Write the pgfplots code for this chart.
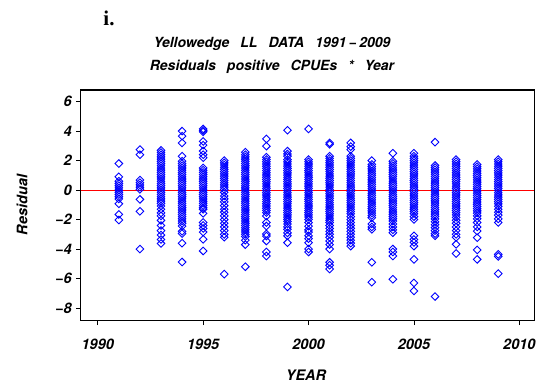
\documentclass[border=0pt]{standalone}
\usepackage{fontspec}
\setmainfont{TeX Gyre Heros}
\newfontfamily\serifbf{Liberation Serif}
\usepackage{pgfplots}
\pgfplotsset{compat=1.18}
\definecolor{sasblue}{RGB}{0,0,255}
\definecolor{sasred}{RGB}{255,0,0}
\newcommand{\wg}{\hspace*{11pt}}
\begin{document}
\begin{tikzpicture}
\useasboundingbox (-80.7pt,-69.3pt) rectangle (457.3pt,320.7pt);
\begin{axis}[
  at={(0pt,0pt)}, anchor=south west,
  scale only axis, width=453.6pt, height=230.7pt,
  xmin=1989.19, xmax=2010.71, ymin=-8.86, ymax=6.79,
  xtick={1990,1995,2000,2005,2010},
  ytick={-8,-6,-4,-2,0,2,4,6},
  xticklabels={1990,1995,2000,2005,2010},
  yticklabels={−8,−6,−4,−2,0,2,4,6},
  xtick pos=left, ytick pos=left,
  tick align=outside, major tick length=4.5pt,
  tick style={black, line width=0.8pt},
  axis line style={line width=1.3pt},
  ticklabel style={font=\fontsize{14.5}{14.5}\selectfont\bfseries\itshape},
  xticklabel style={yshift=-10pt},
  yticklabel style={xshift=-1pt},
  /pgf/number format/assume math mode=true,
  clip=true,
]
\addplot[sasred, line width=0.8pt] coordinates {(1989.19,0) (2010.71,0)};
\addplot[only marks, mark=square, mark size=2.7pt, mark options={rotate=45, sasblue, line width=0.9pt}] coordinates {
(1991,1.8) (1991,0.9) (1991,0.6) (1991,0.45) (1991,0.3) (1991,0.15) (1991,0.0) (1991,-0.15) (1991,-0.3) (1991,-0.45) (1991,-0.6) (1991,-0.93) (1991,-1.65) (1991,-2.03)
(1992,2.75) (1992,2.4) (1992,0.68) (1992,0.5) (1992,0.35) (1992,0.2) (1992,0.05) (1992,-0.63) (1992,-1.44) (1992,-4.0)
(1993,2.69) (1993,2.55) (1993,2.4) (1993,2.25) (1993,2.1) (1993,1.95) (1993,1.8) (1993,1.65) (1993,1.5) (1993,1.35) (1993,1.2) (1993,1.05) (1993,0.9) (1993,0.75) (1993,0.6) (1993,0.45) (1993,0.3) (1993,0.15) (1993,0.0) (1993,-0.15) (1993,-0.3) (1993,-0.45) (1993,-0.6) (1993,-0.75) (1993,-0.9) (1993,-1.08) (1993,-1.3) (1993,-1.55) (1993,-1.75) (1993,-2.05) (1993,-2.4) (1993,-2.75) (1993,-3.05) (1993,-3.35) (1993,-3.62)
(1994,4.0) (1994,3.66) (1994,3.2) (1994,2.3) (1994,1.96) (1994,1.8) (1994,1.65) (1994,1.5) (1994,1.35) (1994,1.2) (1994,1.05) (1994,0.9) (1994,0.75) (1994,0.6) (1994,0.45) (1994,0.3) (1994,0.15) (1994,0.0) (1994,-0.15) (1994,-0.3) (1994,-0.45) (1994,-0.6) (1994,-0.75) (1994,-0.9) (1994,-1.05) (1994,-1.2) (1994,-1.35) (1994,-1.5) (1994,-1.65) (1994,-1.8) (1994,-1.95) (1994,-2.1) (1994,-2.25) (1994,-2.44) (1994,-2.8) (1994,-2.95) (1994,-3.6) (1994,-4.88)
(1995,4.15) (1995,4.05) (1995,3.95) (1995,3.3) (1995,3.05) (1995,2.65) (1995,2.4) (1995,2.2) (1995,1.5) (1995,1.35) (1995,1.2) (1995,1.05) (1995,0.9) (1995,0.75) (1995,0.6) (1995,0.45) (1995,0.3) (1995,0.15) (1995,0.0) (1995,-0.15) (1995,-0.3) (1995,-0.45) (1995,-0.6) (1995,-0.75) (1995,-0.9) (1995,-1.05) (1995,-1.2) (1995,-1.3) (1995,-1.58) (1995,-2.2) (1995,-2.4) (1995,-2.6) (1995,-2.85) (1995,-3.34) (1995,-4.13)
(1996,2.0) (1996,1.85) (1996,1.7) (1996,1.55) (1996,1.4) (1996,1.25) (1996,1.1) (1996,0.95) (1996,0.8) (1996,0.65) (1996,0.5) (1996,0.35) (1996,0.2) (1996,0.05) (1996,-0.15) (1996,-0.4) (1996,-0.6) (1996,-0.8) (1996,-1.05) (1996,-1.3) (1996,-1.5) (1996,-1.75) (1996,-2.0) (1996,-2.25) (1996,-2.5) (1996,-2.75) (1996,-3.0) (1996,-3.2) (1996,-5.7)
(1997,2.57) (1997,2.4) (1997,2.25) (1997,2.1) (1997,1.95) (1997,1.8) (1997,1.65) (1997,1.5) (1997,1.35) (1997,1.2) (1997,1.05) (1997,0.9) (1997,0.75) (1997,0.6) (1997,0.45) (1997,0.3) (1997,0.15) (1997,0.0) (1997,-0.15) (1997,-0.3) (1997,-0.45) (1997,-0.6) (1997,-0.75) (1997,-0.9) (1997,-1.05) (1997,-1.2) (1997,-1.35) (1997,-1.5) (1997,-1.65) (1997,-1.8) (1997,-1.95) (1997,-2.1) (1997,-2.25) (1997,-2.4) (1997,-2.55) (1997,-2.7) (1997,-2.85) (1997,-3.0) (1997,-3.15) (1997,-3.4) (1997,-3.7) (1997,-5.2)
(1998,3.47) (1998,2.98) (1998,2.23) (1998,2.07) (1998,1.92) (1998,1.77) (1998,1.62) (1998,1.47) (1998,1.32) (1998,1.17) (1998,1.02) (1998,0.87) (1998,0.72) (1998,0.57) (1998,0.42) (1998,0.27) (1998,0.12) (1998,-0.03) (1998,-0.18) (1998,-0.33) (1998,-0.48) (1998,-0.63) (1998,-0.78) (1998,-0.93) (1998,-1.08) (1998,-1.23) (1998,-1.38) (1998,-1.53) (1998,-1.76) (1998,-2.2) (1998,-2.44) (1998,-2.98) (1998,-3.12) (1998,-3.45) (1998,-4.2) (1998,-4.47)
(1999,4.06) (1999,2.64) (1999,2.45) (1999,2.3) (1999,2.07) (1999,1.92) (1999,1.77) (1999,1.62) (1999,1.47) (1999,1.32) (1999,1.17) (1999,1.02) (1999,0.87) (1999,0.72) (1999,0.57) (1999,0.42) (1999,0.27) (1999,0.12) (1999,-0.03) (1999,-0.18) (1999,-0.33) (1999,-0.48) (1999,-0.63) (1999,-0.78) (1999,-0.93) (1999,-1.08) (1999,-1.23) (1999,-1.38) (1999,-1.53) (1999,-1.68) (1999,-1.83) (1999,-1.98) (1999,-2.13) (1999,-2.3) (1999,-2.5) (1999,-2.66) (1999,-2.9) (1999,-3.1) (1999,-3.57) (1999,-6.57)
(2000,4.15) (2000,2.07) (2000,1.92) (2000,1.77) (2000,1.62) (2000,1.47) (2000,1.32) (2000,1.17) (2000,1.02) (2000,0.87) (2000,0.72) (2000,0.57) (2000,0.42) (2000,0.27) (2000,0.12) (2000,-0.03) (2000,-0.18) (2000,-0.33) (2000,-0.48) (2000,-0.63) (2000,-0.78) (2000,-0.93) (2000,-1.08) (2000,-1.23) (2000,-1.38) (2000,-1.53) (2000,-1.68) (2000,-1.83) (2000,-1.99) (2000,-2.2) (2000,-2.45) (2000,-2.7) (2000,-2.85) (2000,-3.1) (2000,-3.3) (2000,-3.57) (2000,-4.0) (2000,-4.2)
(2001,3.2) (2001,3.1) (2001,2.3) (2001,2.15) (2001,2.0) (2001,1.85) (2001,1.7) (2001,1.55) (2001,1.4) (2001,1.25) (2001,1.1) (2001,0.95) (2001,0.8) (2001,0.65) (2001,0.5) (2001,0.35) (2001,0.2) (2001,0.05) (2001,-0.1) (2001,-0.25) (2001,-0.4) (2001,-0.55) (2001,-0.7) (2001,-0.85) (2001,-1.0) (2001,-1.15) (2001,-1.3) (2001,-1.45) (2001,-1.6) (2001,-1.75) (2001,-1.9) (2001,-2.05) (2001,-2.2) (2001,-2.4) (2001,-2.6) (2001,-2.8) (2001,-3.0) (2001,-3.2) (2001,-3.45) (2001,-3.7) (2001,-4.0) (2001,-4.9) (2001,-5.1) (2001,-5.35)
(2002,3.2) (2002,2.95) (2002,2.75) (2002,2.3) (2002,2.15) (2002,2.0) (2002,1.85) (2002,1.7) (2002,1.55) (2002,1.4) (2002,1.25) (2002,1.1) (2002,0.95) (2002,0.8) (2002,0.65) (2002,0.5) (2002,0.35) (2002,0.2) (2002,0.05) (2002,-0.1) (2002,-0.25) (2002,-0.4) (2002,-0.55) (2002,-0.7) (2002,-0.85) (2002,-1.0) (2002,-1.15) (2002,-1.3) (2002,-1.45) (2002,-1.6) (2002,-1.8) (2002,-2.0) (2002,-2.2) (2002,-2.4) (2002,-2.6) (2002,-2.8) (2002,-3.0) (2002,-3.2) (2002,-3.4) (2002,-3.6) (2002,-3.8)
(2003,2.0) (2003,1.74) (2003,1.59) (2003,1.44) (2003,1.29) (2003,1.14) (2003,0.99) (2003,0.84) (2003,0.69) (2003,0.54) (2003,0.39) (2003,0.24) (2003,0.09) (2003,-0.06) (2003,-0.21) (2003,-0.36) (2003,-0.51) (2003,-0.66) (2003,-0.81) (2003,-0.96) (2003,-1.11) (2003,-1.26) (2003,-1.41) (2003,-1.56) (2003,-1.72) (2003,-1.87) (2003,-2.3) (2003,-2.5) (2003,-2.66) (2003,-4.9) (2003,-6.25)
(2004,2.5) (2004,1.96) (2004,1.81) (2004,1.66) (2004,1.51) (2004,1.36) (2004,1.21) (2004,1.06) (2004,0.91) (2004,0.76) (2004,0.61) (2004,0.46) (2004,0.31) (2004,0.16) (2004,0.01) (2004,-0.14) (2004,-0.29) (2004,-0.44) (2004,-0.59) (2004,-0.74) (2004,-0.89) (2004,-1.04) (2004,-1.19) (2004,-1.34) (2004,-1.49) (2004,-1.64) (2004,-1.79) (2004,-1.94) (2004,-2.1) (2004,-2.3) (2004,-2.5) (2004,-2.7) (2004,-2.89) (2004,-4.0) (2004,-4.2) (2004,-4.47) (2004,-6.05)
(2005,2.5) (2005,2.3) (2005,2.15) (2005,2.0) (2005,1.85) (2005,1.7) (2005,1.55) (2005,1.4) (2005,1.25) (2005,1.1) (2005,0.95) (2005,0.8) (2005,0.65) (2005,0.5) (2005,0.35) (2005,0.2) (2005,0.05) (2005,-0.1) (2005,-0.25) (2005,-0.4) (2005,-0.55) (2005,-0.7) (2005,-0.85) (2005,-1.0) (2005,-1.15) (2005,-1.3) (2005,-1.45) (2005,-1.6) (2005,-1.8) (2005,-1.99) (2005,-3.1) (2005,-3.35) (2005,-3.55) (2005,-3.8) (2005,-4.7) (2005,-6.3) (2005,-6.84)
(2006,3.25) (2006,1.67) (2006,1.52) (2006,1.37) (2006,1.22) (2006,1.07) (2006,0.92) (2006,0.77) (2006,0.62) (2006,0.47) (2006,0.32) (2006,0.17) (2006,0.02) (2006,-0.13) (2006,-0.28) (2006,-0.43) (2006,-0.58) (2006,-0.73) (2006,-0.88) (2006,-1.03) (2006,-1.18) (2006,-1.33) (2006,-1.48) (2006,-1.63) (2006,-1.78) (2006,-1.95) (2006,-2.15) (2006,-2.35) (2006,-2.55) (2006,-2.75) (2006,-2.95) (2006,-3.1) (2006,-7.22)
(2007,2.07) (2007,1.92) (2007,1.77) (2007,1.62) (2007,1.47) (2007,1.32) (2007,1.17) (2007,1.02) (2007,0.87) (2007,0.72) (2007,0.57) (2007,0.42) (2007,0.27) (2007,0.12) (2007,-0.03) (2007,-0.18) (2007,-0.33) (2007,-0.48) (2007,-0.63) (2007,-0.78) (2007,-0.93) (2007,-1.08) (2007,-1.23) (2007,-1.38) (2007,-1.53) (2007,-1.68) (2007,-1.85) (2007,-2.05) (2007,-2.25) (2007,-2.5) (2007,-2.75) (2007,-3.0) (2007,-3.2) (2007,-3.68) (2007,-4.3)
(2008,1.74) (2008,1.59) (2008,1.44) (2008,1.29) (2008,1.14) (2008,0.99) (2008,0.84) (2008,0.69) (2008,0.54) (2008,0.39) (2008,0.24) (2008,0.09) (2008,-0.06) (2008,-0.21) (2008,-0.36) (2008,-0.51) (2008,-0.66) (2008,-0.81) (2008,-0.96) (2008,-1.11) (2008,-1.26) (2008,-1.41) (2008,-1.56) (2008,-1.75) (2008,-1.95) (2008,-2.2) (2008,-2.5) (2008,-2.78) (2008,-3.23) (2008,-4.06) (2008,-4.7)
(2009,2.07) (2009,1.92) (2009,1.77) (2009,1.62) (2009,1.47) (2009,1.32) (2009,1.17) (2009,1.02) (2009,0.87) (2009,0.72) (2009,0.57) (2009,0.42) (2009,0.27) (2009,0.12) (2009,-0.03) (2009,-0.18) (2009,-0.33) (2009,-0.48) (2009,-0.63) (2009,-0.78) (2009,-0.93) (2009,-1.1) (2009,-1.3) (2009,-1.5) (2009,-1.7) (2009,-1.95) (2009,-2.2) (2009,-4.36) (2009,-4.5) (2009,-5.67)
};
\end{axis}
\node[font=\serifbf\bfseries\fontsize{21}{21}\selectfont] at (28.3pt,302.7pt) {i.};
\node[font=\bfseries\itshape\fontsize{14}{14}\selectfont] at (191.3pt,276.7pt) {Yellowedge\wg LL\wg DATA\wg 1991\,−\,2009};
\node[font=\bfseries\itshape\fontsize{14}{14}\selectfont] at (191.3pt,253.7pt) {Residuals\wg positive\wg CPUEs\wg *\wg Year};
\node[font=\bfseries\itshape\fontsize{14.5}{14.5}\selectfont] at (225.3pt,-54.3pt) {YEAR};
\node[font=\bfseries\itshape\fontsize{14.5}{14.5}\selectfont, rotate=90] at (-58.7pt,115.7pt) {Residual};
\end{tikzpicture}
\end{document}
